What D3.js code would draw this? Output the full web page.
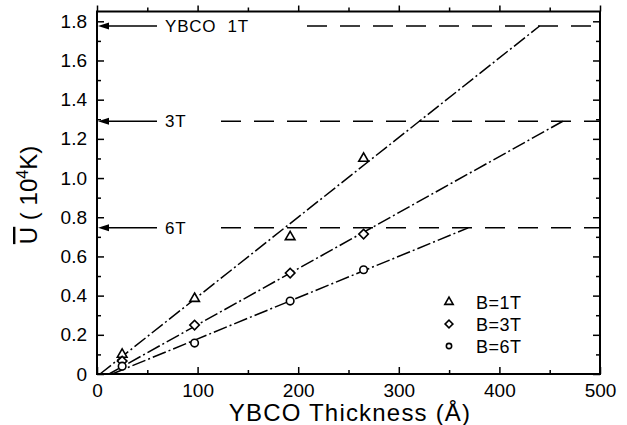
<!DOCTYPE html>
<html>
<head>
<meta charset="utf-8">
<script src="https://cdn.jsdelivr.net/npm/d3@7"></script>
<style>
  body { margin: 0; background: #fff; }
  text { font-family: "Liberation Sans", Arial, sans-serif; fill: #000; }
</style>
</head>
<body>
<div id="chart"></div>
<script>
// thickness in Angstrom
const thickness = [25, 97, 192, 265];
const u1T = [0.10, 0.385, 0.70, 1.10];
const u3T = [0.066, 0.25, 0.515, 0.714];
const u6T = [0.04, 0.158, 0.372, 0.532];

// fitted lines [x0, y0, x1, y1]
const fit1T = [[3, 0], [440, 1.776]];
const fit3T = [[12, 0], [463, 1.29]];
const fit6T = [[15, 0], [369, 0.746]];

// limit markers
const limits = [
  { label: "YBCO  1T", value: 1.776, dashStart: 307 },
  { label: "3T", value: 1.29, dashStart: 221 },
  { label: "6T", value: 0.746, dashStart: 221 }
];

const xMajor = [0, 100, 200, 300, 400, 500];
const xMinor = [50, 150, 250, 350, 450];
const yMajor = [0, 0.2, 0.4, 0.6, 0.8, 1.0, 1.2, 1.4, 1.6, 1.8];
const yMinor = [0.1, 0.3, 0.5, 0.7, 0.9, 1.1, 1.3, 1.5, 1.7];

const legendLabels = ["B=1T", "B=3T", "B=6T"];

const width = 627, height = 425;
const svg = d3.select("#chart").append("svg")
    .attr("width", width)
    .attr("height", height);

const x = d3.scaleLinear().domain([0, 500]).range([97, 600]);
const y = d3.scaleLinear().domain([0, 1.85]).range([374, 11.5]);

// ticks, all pointing inward
function ticks(axisFn, scale, vals, size, pos, labels, pad) {
    const a = axisFn(scale).tickValues(vals).tickSize(-size).tickPadding(pad || 8);
    if (labels) a.tickFormat(d => d === 0 ? "0" : (scale === y ? d3.format(".1f")(d) : d));
    else a.tickFormat("");
    const g = svg.append("g").attr("transform", pos).call(a);
    g.select(".domain").remove();
    g.selectAll("line").attr("stroke", "#000").attr("stroke-width", 1.5);
    g.selectAll("text").style("font-size", "19px").attr("fill", "#000");
    return g;
}
ticks(d3.axisBottom, x, xMajor, 7, `translate(0,${y(0)})`, true, 9.5);
ticks(d3.axisBottom, x, xMinor, 4, `translate(0,${y(0)})`, false);
ticks(d3.axisTop, x, xMajor, -6, `translate(0,${y.range()[1]})`, false);
ticks(d3.axisTop, x, xMinor, -4, `translate(0,${y.range()[1]})`, false);
ticks(d3.axisLeft, y, yMajor, 7, `translate(${x(0)},0)`, true, 10);
ticks(d3.axisLeft, y, yMinor, 4, `translate(${x(0)},0)`, false);
ticks(d3.axisRight, y, yMajor, 7, `translate(${x(500)},0)`, false);
ticks(d3.axisRight, y, yMinor, 4, `translate(${x(500)},0)`, false);

// frame
svg.append("rect")
    .attr("x", x(0)).attr("y", y.range()[1])
    .attr("width", x(500) - x(0)).attr("height", y(0) - y.range()[1])
    .attr("fill", "none").attr("stroke", "#000").attr("stroke-width", 2);

// horizontal dashed limits + arrows
limits.forEach(l => {
    svg.append("line")
        .attr("x1", l.dashStart).attr("x2", x(500))
        .attr("y1", y(l.value)).attr("y2", y(l.value))
        .attr("stroke", "#000").attr("stroke-width", 1.5)
        .attr("stroke-dasharray", "20,13");
    svg.append("line")
        .attr("x1", 157).attr("x2", x(0) + 11)
        .attr("y1", y(l.value)).attr("y2", y(l.value))
        .attr("stroke", "#000").attr("stroke-width", 1.5);
    svg.append("path")
        .attr("d", `M${x(0) + 1},${y(l.value)} l11,-3.5 l0,7 Z`)
        .attr("fill", "#000");
    svg.append("text")
        .attr("x", 165).attr("y", y(l.value) + 6)
        .attr("xml:space", "preserve")
        .style("font-size", "17px")
        .style("letter-spacing", "0.8px")
        .text(l.label);
});

// fitted dash-dot lines
const line = d3.line().x(d => x(d[0])).y(d => y(d[1]));
[fit1T, fit3T, fit6T].forEach(f => {
    svg.append("path")
        .attr("d", line(f))
        .attr("fill", "none").attr("stroke", "#000").attr("stroke-width", 1.5)
        .attr("stroke-dasharray", "14,3,2,3");
});

// markers (diamond = rotated square)
const shapes = [d3.symbolTriangle, d3.symbolSquare, d3.symbolCircle];
const sizes = [40, 45, 45];
const rot = [0, 45, 0];
const series = [u1T, u3T, u6T];
series.forEach((vals, i) => {
    const sym = d3.symbol().type(shapes[i]).size(sizes[i]);
    svg.append("g").selectAll("path")
        .data(vals.map((v, j) => [thickness[j], v]))
        .join("path")
        .attr("transform", d => `translate(${x(d[0])},${y(d[1])}) rotate(${rot[i]})`)
        .attr("d", sym)
        .attr("fill", "#fff").attr("stroke", "#000").attr("stroke-width", 1.6);
});

// legend
const legend = svg.append("g");
legendLabels.forEach((lab, i) => {
    const ly = 302 + i * 22;
    legend.append("path")
        .attr("transform", `translate(449,${ly}) rotate(${rot[i]})`)
        .attr("d", d3.symbol().type(shapes[i]).size(i === 2 ? 22 : 30)())
        .attr("fill", "#fff").attr("stroke", "#000").attr("stroke-width", 1.6);
    legend.append("text")
        .attr("x", 476).attr("y", ly + 6.5)
        .style("font-size", "18px")
        .style("letter-spacing", "0.5px")
        .text(lab);
});

// axis titles
svg.append("text")
    .attr("x", 350).attr("y", 421)
    .attr("text-anchor", "middle")
    .style("font-size", "24px")
    .style("letter-spacing", "1.2px")
    .text("YBCO Thickness (Å)");

const yt = svg.append("text")
    .attr("transform", `translate(37,195) rotate(-90)`)
    .attr("text-anchor", "middle")
    .attr("xml:space", "preserve")
    .style("font-size", "24px");
yt.append("tspan").style("text-decoration", "overline").text("U");
yt.append("tspan").text(" ( 10");
yt.append("tspan").attr("dy", -9).style("font-size", "16px").text("4");
yt.append("tspan").attr("dy", 9).text("K)");
</script>
</body>
</html>
